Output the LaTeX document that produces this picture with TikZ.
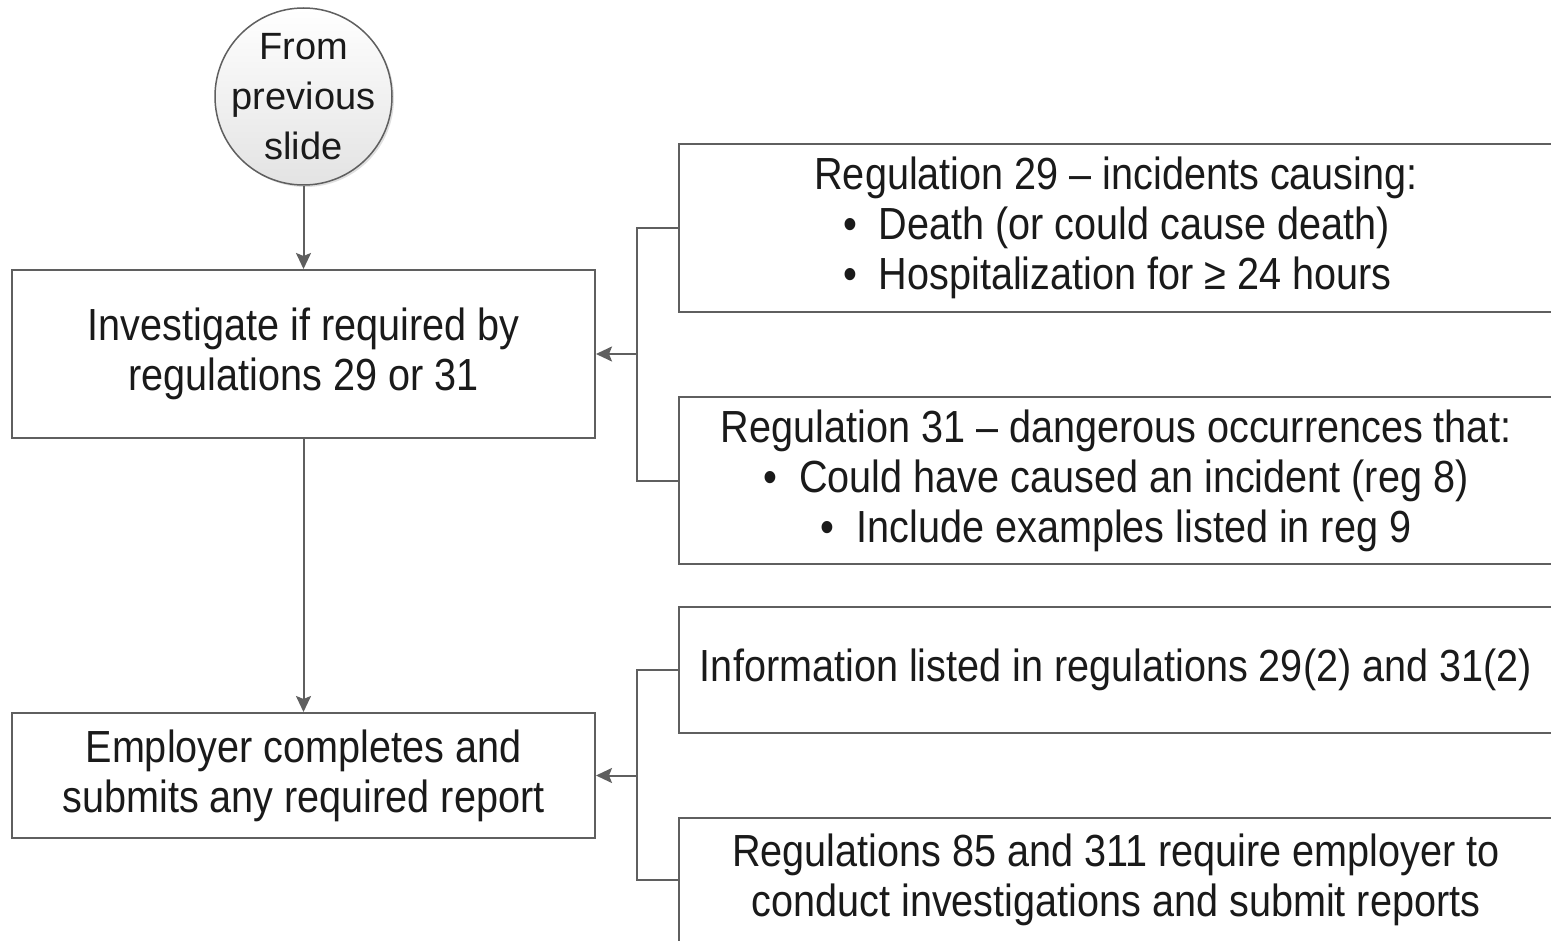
\documentclass[tikz,border=0pt]{standalone}
\usepackage{fontspec}
\setmainfont{Liberation Sans}[FakeStretch=0.88]
\newfontfamily\circfont{Liberation Sans}
\usetikzlibrary{arrows.meta,shadows}
\definecolor{linegray}{HTML}{5F5F5F}
\definecolor{txt}{HTML}{1A1A1A}
\tikzset{
  box/.style={draw=linegray, line width=2pt, rectangle, inner sep=0pt, align=center, text=txt,
    font=\fontsize{45}{50}\selectfont},
  conn/.style={draw=linegray, line width=2pt},
  arr/.style={conn, -{Stealth[length=16pt,width=15pt,inset=3pt]}},
}
\begin{document}
\begin{tikzpicture}[x=1pt,y=-1pt]
\useasboundingbox (0,0) rectangle (1551,941);
\clip (0,0) rectangle (1551,941);
\fill[white] (0,0) rectangle (1551,941);
% start circle
\node[circle, draw=linegray, line width=1.5pt, minimum size=177pt, inner sep=-25pt,
  top color=white, bottom color=gray!22, align=center, text=txt,
  font=\circfont\fontsize{38}{50}\selectfont, drop shadow={opacity=0.25, shadow xshift=2pt, shadow yshift=-2pt}]
  (start) at (303.5,96.5) {From\\previous\\slide};
% left boxes
\node[box, minimum width=583pt, minimum height=168pt] (inv) at (303.5,354)
  {Investigate if required by\\regulations 29 or 31};
\node[box, minimum width=583pt, minimum height=125pt] (emp) at (303.5,775.5)
  {Employer completes and\\submits any required report};
% right boxes
\node[box, minimum width=874pt, minimum height=168pt] (ra) at (1116,228)
  {Regulation 29 -- incidents causing:\\
   \makebox[546pt][l]{• \ Death (or could cause death)}\\
   \makebox[546pt][l]{• \ Hospitalization for ≥ 24 hours}};
\node[box, minimum width=874pt, minimum height=167pt] (rb) at (1116,480.5)
  {Regulation 31 -- dangerous occurrences that:\\
   • \ Could have caused an incident (reg 8)\\
   • \ Include examples listed in reg 9};
\node[box, minimum width=874pt, minimum height=126pt] (rc) at (1116,670)
  {Information listed in regulations 29(2) and 31(2)};
\node[box, minimum width=874pt, minimum height=124pt] (rd) at (1116,880)
  {Regulations 85 and 311 require employer to\\conduct investigations and submit reports};
% connectors
\coordinate (j1) at (637,354);
\coordinate (j2) at (637,775.5);
\draw[arr] (start) -- (inv);
\draw[arr] (inv) -- (emp);
\draw[conn] (ra.west) -| (j1) |- (rb.west);
\draw[arr] (j1) -- (inv.east);
\draw[conn] (rc.west) -| (j2) |- (rd.west);
\draw[arr] (j2) -- (emp.east);
\end{tikzpicture}
\end{document}
